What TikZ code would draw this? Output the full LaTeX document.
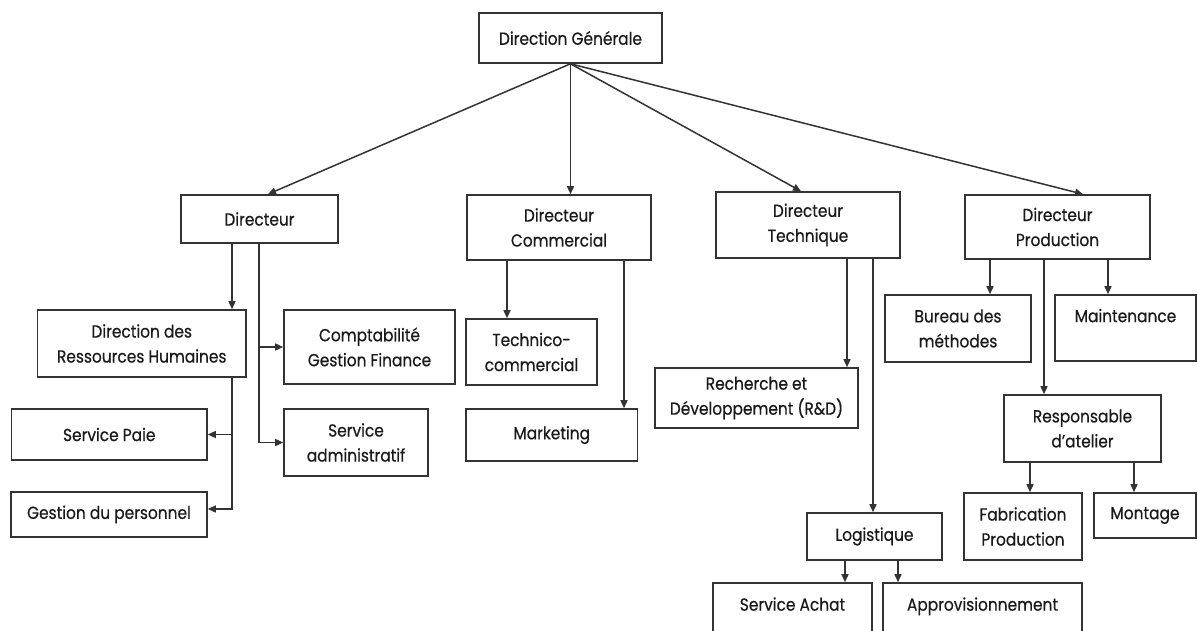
\documentclass[tikz,border=0pt]{standalone}
\usepackage{fontspec}
\setmainfont{Poppins}[FakeStretch=0.88, FakeBold=0.5]
\usetikzlibrary{arrows.meta}
\definecolor{linec}{HTML}{333333}
\definecolor{txt}{HTML}{1A1A1A}
\begin{document}
\begin{tikzpicture}[x=1pt,y=-1pt,
  box/.style={draw=linec, line width=1.6pt, fill=white, inner sep=0pt,
    align=center, text=txt, font=\fontsize{17.5}{25}\selectfont},
  arr/.style={draw=linec, line width=1.5pt, -{Triangle[length=8pt,width=7pt]}},
  ln/.style={draw=linec, line width=1.5pt}]
\clip (0,0) rectangle (1198,631);
\fill[white] (0,0) rectangle (1198,631);

% --- boxes ---
\node[box, minimum width=183pt, minimum height=50pt] (dg) at (570.5,38) {Direction Générale};

\node[box, minimum width=157pt, minimum height=48pt] (dir) at (259.5,219) {Directeur};
\node[box, minimum width=184pt, minimum height=65pt] (dcom) at (559,227.5) {Directeur\\Commercial};
\node[box, minimum width=184pt, minimum height=66pt] (dtech) at (808,225) {Directeur\\Technique};
\node[box, minimum width=185pt, minimum height=64pt] (dprod) at (1057.5,227) {Directeur\\Production};

\node[box, minimum width=208.5pt, minimum height=67pt] (drh) at (141.75,343.5) {Direction des\\Ressources Humaines};
\node[box, minimum width=171pt, minimum height=74pt] (compta) at (369.5,347) {Comptabilité\\Gestion Finance};
\node[box, minimum width=195.5pt, minimum height=51pt] (paie) at (109.25,434.5) {Service Paie};
\node[box, minimum width=196pt, minimum height=45pt] (gestion) at (109,514.5) {Gestion du personnel};
\node[box, minimum width=144pt, minimum height=67pt] (admin) at (356,442.5) {Service\\administratif};

\node[box, minimum width=131pt, minimum height=66pt] (techno) at (531.5,352) {Technico-\\commercial};
\node[box, minimum width=171.5pt, minimum height=52pt] (marketing) at (551.75,435) {Marketing};

\node[box, minimum width=203pt, minimum height=60pt] (rd) at (756.5,398) {Recherche et\\Développement (R\&D)};
\node[box, minimum width=135pt, minimum height=47pt] (logist) at (874.5,536.5) {Logistique};
\node[box, minimum width=159pt, minimum height=67pt] (achat) at (792.5,616.5) {Service Achat\\~};
\node[box, minimum width=199pt, minimum height=67pt] (appro) at (982.5,616.5) {Approvisionnement\\~};

\node[box, minimum width=146pt, minimum height=67pt] (bureau) at (958,328.5) {Bureau des\\méthodes};
\node[box, minimum width=141pt, minimum height=66pt] (maint) at (1125.5,328) {Maintenance\\~};
\node[box, minimum width=157pt, minimum height=67pt] (resp) at (1082.5,428.5) {Responsable\\d’atelier};
\node[box, minimum width=118pt, minimum height=67pt] (fab) at (1023,526.5) {Fabrication\\Production};
\node[box, minimum width=102pt, minimum height=45pt] (montage) at (1145,515.5) {Montage};

% --- from the general direction ---
\draw[arr] (dg.south) -- ([xshift=8.5pt]dir.north);
\draw[arr] (dg.south) -- (dg.south |- dcom.north);
\draw[arr] (dg.south) -- ([xshift=-7pt]dtech.north);
\draw[arr] (dg.south) -- ([xshift=25.5pt]dprod.north);

% --- branch origins on the lower edges ---
\coordinate (dA) at ([xshift=-27.5pt]dir.south);
\coordinate (dB) at ([xshift=-0.5pt]dir.south);
\coordinate (rA) at ([xshift=90.25pt]drh.south);
\coordinate (cA) at ([xshift=-52pt]dcom.south);
\coordinate (cB) at ([xshift=65pt]dcom.south);
\coordinate (tA) at ([xshift=39pt]dtech.south);
\coordinate (tB) at ([xshift=65pt]dtech.south);
\coordinate (pA) at ([xshift=-67.5pt]dprod.south);
\coordinate (pB) at ([xshift=-13.5pt]dprod.south);
\coordinate (pC) at ([xshift=50.5pt]dprod.south);
\coordinate (sA) at ([xshift=-52.5pt]resp.south);
\coordinate (sB) at ([xshift=51.5pt]resp.south);
\coordinate (lA) at ([xshift=-29.5pt]logist.south);
\coordinate (lB) at ([xshift=23.5pt]logist.south);

% --- Directeur ---
\draw[arr] (dA) -- (dA |- drh.north);
\draw[arr] (dB) |- (admin.west);
\draw[arr] (dB |- compta.west) -- (compta.west);

% --- Ressources Humaines ---
\draw[arr] (rA) |- ([yshift=5.5pt]gestion.east);
\draw[arr] (rA |- paie.east) -- (paie.east);

% --- Commercial ---
\draw[arr] (cA) -- (cA |- techno.north);
\draw[arr] (cB) -- (cB |- marketing.north);

% --- Technique ---
\draw[arr] (tA) -- (tA |- rd.north);
\draw[arr] (tB) -- (tB |- logist.north);

% --- Production ---
\draw[arr] (pA) -- (pA |- bureau.north);
\draw[arr] (pB) -- (pB |- resp.north);
\draw[arr] (pC) -- (pC |- maint.north);

% --- atelier and logistics ---
\draw[arr] (sA) -- (sA |- fab.north);
\draw[arr] (sB) -- (sB |- montage.north);
\draw[arr] (lA) -- (lA |- achat.north);
\draw[arr] (lB) -- (lB |- appro.north);
\end{tikzpicture}
\end{document}
